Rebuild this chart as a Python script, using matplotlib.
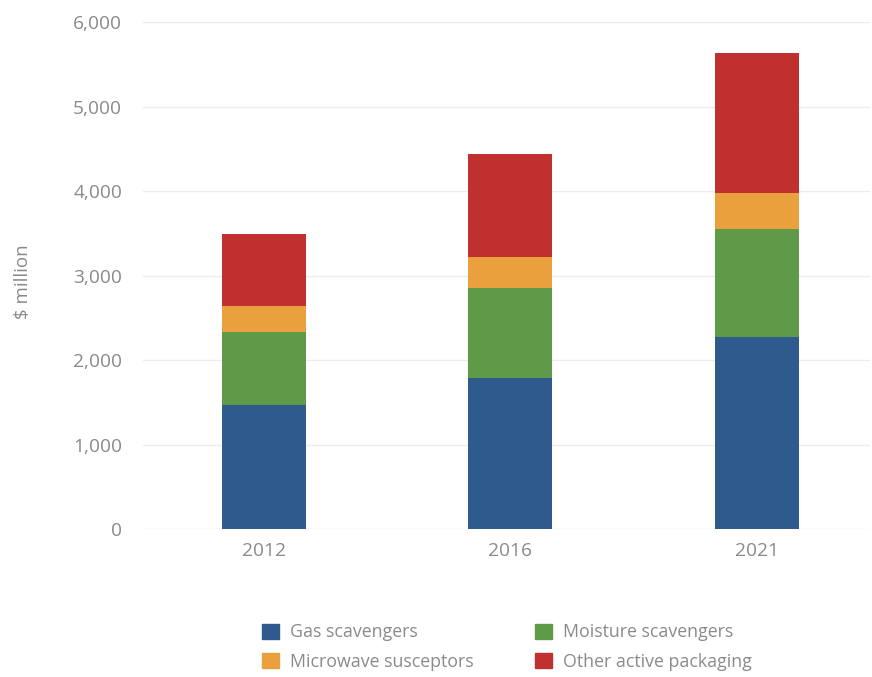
import numpy as np
import matplotlib.pyplot as plt
from matplotlib.patches import Patch
from matplotlib.ticker import FuncFormatter

# dane ($ million)
years = ['2012', '2016', '2021']
gas = [1470, 1790, 2275]
moisture = [860, 1065, 1275]
microwave = [310, 365, 425]
other = [850, 1215, 1655]

series = ['Gas scavengers', 'Moisture scavengers', 'Microwave susceptors', 'Other active packaging']
colors = ['#2e5a8e', '#5e9a48', '#eba03e', '#c0302f']
values = [gas, moisture, microwave, other]

plt.rcParams['font.family'] = ['Open Sans', 'DejaVu Sans']
txt = '#8a8a8a'

fig = plt.figure(figsize=(8.72, 6.77), dpi=100)
ax = fig.add_axes([143 / 872, 1 - 529 / 677, (870 - 143) / 872, (529 - 22) / 677])

x = np.arange(len(years))
bottom = np.zeros(len(years))
for name, col, vals in zip(series, colors, values):
    ax.bar(x, vals, width=0.34, bottom=bottom, color=col, label=name, zorder=3)
    bottom += np.array(vals)

ax.set_xlim(-0.49, 2.46)
ax.set_ylim(0, 6000)
ax.set_yticks(range(0, 6001, 1000))
ax.yaxis.set_major_formatter(FuncFormatter(lambda v, p: f'{int(v):,}'))
ax.set_xticks(x)
ax.set_xticklabels(years)
ax.grid(axis='y', color='#ececec', linewidth=1, zorder=0)
for s in ax.spines.values():
    s.set_visible(False)
ax.tick_params(length=0, colors=txt, labelsize=13.8)
ax.tick_params(axis='y', pad=15)
ax.tick_params(axis='x', pad=9)
ax.set_ylabel('$ million', color=txt, fontsize=13.5)
ax.yaxis.set_label_coords(-0.153, 0.487)

order = [0, 2, 1, 3]
handles = [Patch(color=colors[i]) for i in order]
labels = [series[i] for i in order]
fig.legend(handles, labels, ncol=2, loc='center', bbox_to_anchor=(507 / 872, 1 - 647 / 677),
           frameon=False, fontsize=12.8, labelcolor=txt, handlelength=0.95, handleheight=0.95,
           columnspacing=3.5, handletextpad=0.6, labelspacing=0.62)

plt.savefig('out.png')
